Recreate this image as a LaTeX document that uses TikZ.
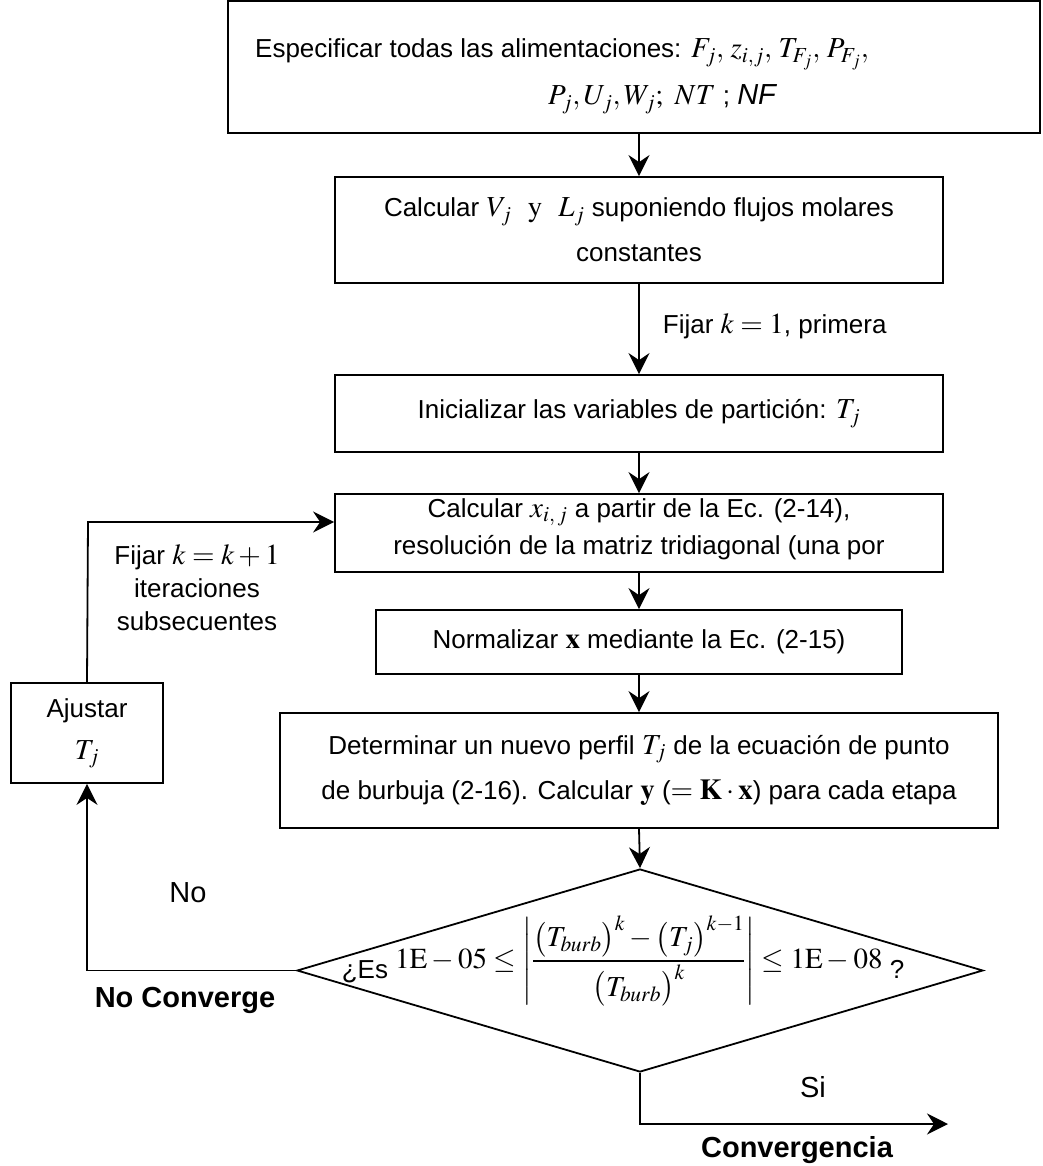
\documentclass[tikz,border=0pt]{standalone}
\usepackage{mathptmx}
\usepackage[no-math]{fontspec}
\setmainfont{Liberation Sans}
\usetikzlibrary{arrows.meta,shapes.geometric}

% inline math set a little larger than the running text
\newcommand\mm[1]{{\fontsize{29}{34}\selectfont$#1$}}

\begin{document}
\begin{tikzpicture}[x=1pt,y=-1pt,
  line width=1.8pt,
  txt/.style={font=\fontsize{26}{45}\selectfont, inner sep=0pt},
  box/.style={draw, rectangle, inner sep=0pt, align=center,
              font=\fontsize{26}{45}\selectfont},
  flow/.style={-{Stealth[length=21pt,width=21pt,inset=7pt]}},
  lbl/.style={font=\fontsize{29}{34}\selectfont, inner sep=0pt},
  blbl/.style={font=\fontsize{29}{34}\selectfont\bfseries, inner sep=0pt}]

\fill[white] (0,0) rectangle (1042,1166);
\useasboundingbox (0,0) rectangle (1042,1166);

% --- process boxes -------------------------------------------------
\node[box, minimum width=812pt, minimum height=132pt] (b1) at (634,67) {};
\node[txt, anchor=base] (b1a) at (562,58)
  {Especificar todas las alimentaciones: \mm{F_j ,\, z_{i,j} ,\, T_{F_j} ,\, P_{F_j} ,}};
\node[txt, anchor=base] (b1b) at (662,105)
  {\mm{P_j ,U_j ,W_j ;\ NT} ; {\fontsize{29}{34}\selectfont\itshape NF}};

\node[box, minimum width=608pt, minimum height=106pt] (b2) at (639,230)
  {Calcular \mm{V_j\ \ \mathrm{y}\ \ L_j} suponiendo flujos molares\\constantes};

\node[box, minimum width=608pt, minimum height=77pt] (b3) at (639,413.5)
  {Inicializar las variables de partición: \mm{T_j}};

\node[box, minimum width=608pt, minimum height=78pt] (b4) at (639,533) {};
\node[txt, anchor=base] (b4a) at (639,517)
  {Calcular \mm{x_{i,\,j}} a partir de la Ec. (2-14),};
\node[txt, anchor=base] (b4b) at (639,554)
  {resolución de la matriz tridiagonal (una por};

\node[box, minimum width=526pt, minimum height=64pt] (b5) at (639,642)
  {Normalizar \mm{\mathbf{x}} mediante la Ec. (2-15)};

\node[box, minimum width=718pt, minimum height=115pt] (b6) at (639,770.5)
  {Determinar un nuevo perfil \mm{T_j} de la ecuación de punto\\
   de burbuja (2-16). Calcular \mm{\mathbf{y}} (\mm{=\mathbf{K}\cdot\mathbf{x}}) para cada etapa};

\node[box, minimum width=152pt, minimum height=100pt, font=\fontsize{26}{42}\selectfont]
  (adj) at (87,733) {Ajustar\\\mm{T_j}};

% --- convergence test ----------------------------------------------
\node[draw, diamond, inner sep=0pt, minimum width=686pt, minimum height=203pt]
  (dec) at (640,970.5) {};
\node[txt] (cond) at (623,961)
  {\raisebox{-10pt}{¿Es} \mm{1\mathrm{E}-05\le\left|\displaystyle
     \frac{\bigl(T_{burb}\bigr)^k-\bigl(T_j\bigr)^{k-1}}{\bigl(T_{burb}\bigr)^k}\right|
     \le 1\mathrm{E}-08} \raisebox{-10pt}{?}};

% --- labels ---------------------------------------------------------
\node[txt, anchor=west] (lk1) at (662,326) {Fijar \mm{k=1}, primera};
\node[txt, align=center, font=\fontsize{26}{33}\selectfont] (lkn) at (197,588)
  {Fijar \mm{k=k+1}\\iteraciones\\subsecuentes};
\node[lbl] (lno) at (188,893) {No};
\node[blbl] (lnc) at (185,1000) {No Converge};
\node[lbl] (lsi) at (813,1087) {Si};
\node[blbl] (lcv) at (797,1150) {Convergencia};

% --- connectors -----------------------------------------------------
\coordinate (ret) at (88,522);
\coordinate (conv) at (948,1124);

\draw[flow] (b2.north |- b1.south) -- (b2.north);
\draw[flow] (b2.south) -- (b3.north);
\draw[flow] (b3.south) -- (b4.north);
\draw[flow] (b4.south) -- (b5.north);
\draw[flow] (b5.south) -- (b6.north);
\draw[flow] (b6.south) -- (dec.north);
\draw[flow] (dec.west) -- (dec.west -| adj.south) -- (adj.south);
\draw[flow] (adj.north) -- (ret) -- (ret -| b4.west);
\draw[flow] (dec.south) |- (conv);
\end{tikzpicture}
\end{document}
